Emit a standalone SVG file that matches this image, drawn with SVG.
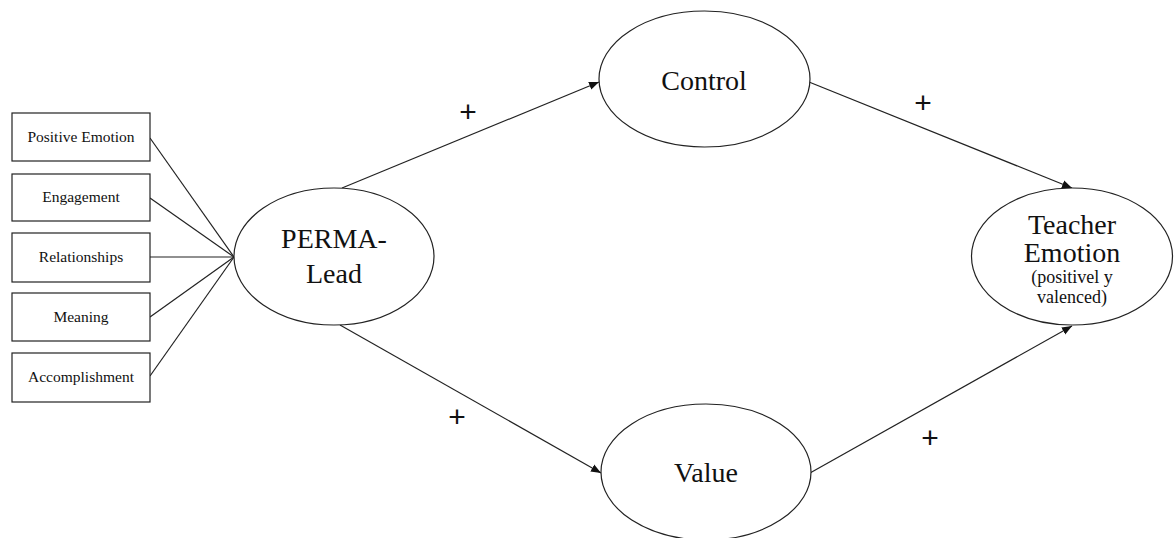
<svg xmlns="http://www.w3.org/2000/svg" width="1174" height="538" viewBox="0 0 1174 538">
<defs>
<style>
.box{fill:#fff;stroke:#222;stroke-width:1.2}
.ell{fill:#fff;stroke:#222;stroke-width:1.2}
.edge{stroke:#222;stroke-width:1.2;fill:none}
.t{font-family:"Liberation Serif","Times New Roman",serif;fill:#111;text-anchor:middle}
.small{font-size:15.5px}
.big{font-size:28px}
.mid{font-size:18px}
.plus{font-family:"Liberation Sans",Arial,sans-serif;font-size:30px;fill:#111;text-anchor:middle}
</style>
<marker id="arr" viewBox="0 0 10 10" refX="10" refY="5" markerWidth="10" markerHeight="10" markerUnits="userSpaceOnUse" orient="auto">
<path d="M0,1 L10,5 L0,9 Z" fill="#111"/>
</marker>
</defs>
<rect width="1174" height="538" fill="#fff"/>
<g id="connectors">
<line class="edge" x1="150" y1="138" x2="234" y2="257"/>
<line class="edge" x1="150" y1="198" x2="234" y2="257"/>
<line class="edge" x1="150" y1="257" x2="234" y2="257"/>
<line class="edge" x1="150" y1="317" x2="234" y2="257"/>
<line class="edge" x1="150" y1="376" x2="234" y2="257"/>
<line class="edge" x1="342" y1="188" x2="599" y2="82" marker-end="url(#arr)"/>
<line class="edge" x1="340" y1="325" x2="601" y2="473" marker-end="url(#arr)"/>
<line class="edge" x1="809" y1="82" x2="1072" y2="188" marker-end="url(#arr)"/>
<line class="edge" x1="810" y1="473" x2="1072" y2="326" marker-end="url(#arr)"/>
<text class="plus" x="468" y="122">+</text>
<text class="plus" x="457" y="427">+</text>
<text class="plus" x="923" y="113">+</text>
<text class="plus" x="930" y="448">+</text>
</g>
<g id="box-positive-emotion"><rect class="box" x="12" y="113" width="138" height="48"/><text class="t small" x="81" y="142">Positive Emotion</text></g>
<g id="box-engagement"><rect class="box" x="12" y="174" width="138" height="47"/><text class="t small" x="81" y="202">Engagement</text></g>
<g id="box-relationships"><rect class="box" x="12" y="233" width="138" height="49"/><text class="t small" x="81" y="262">Relationships</text></g>
<g id="box-meaning"><rect class="box" x="12" y="293" width="138" height="48"/><text class="t small" x="81" y="322">Meaning</text></g>
<g id="box-accomplishment"><rect class="box" x="12" y="353" width="138" height="49"/><text class="t small" x="81" y="382">Accomplishment</text></g>
<g id="node-perma"><ellipse class="ell" cx="334" cy="256.5" rx="100" ry="68.5"/><text class="t big" x="334" y="248">PERMA-</text><text class="t big" x="334" y="283">Lead</text></g>
<g id="node-control"><ellipse class="ell" cx="704.5" cy="79" rx="105.5" ry="68"/><text class="t big" x="704" y="90">Control</text></g>
<g id="node-value"><ellipse class="ell" cx="706" cy="472" rx="105" ry="68"/><text class="t big" x="706" y="482">Value</text></g>
<g id="node-teacher"><ellipse class="ell" cx="1072" cy="256.5" rx="100.5" ry="68.5"/><text class="t big" x="1072" y="234">Teacher</text><text class="t big" x="1072" y="262">Emotion</text><text class="t mid" x="1072" y="283">(positivel y</text><text class="t mid" x="1072" y="303">valenced)</text></g>
</svg>
